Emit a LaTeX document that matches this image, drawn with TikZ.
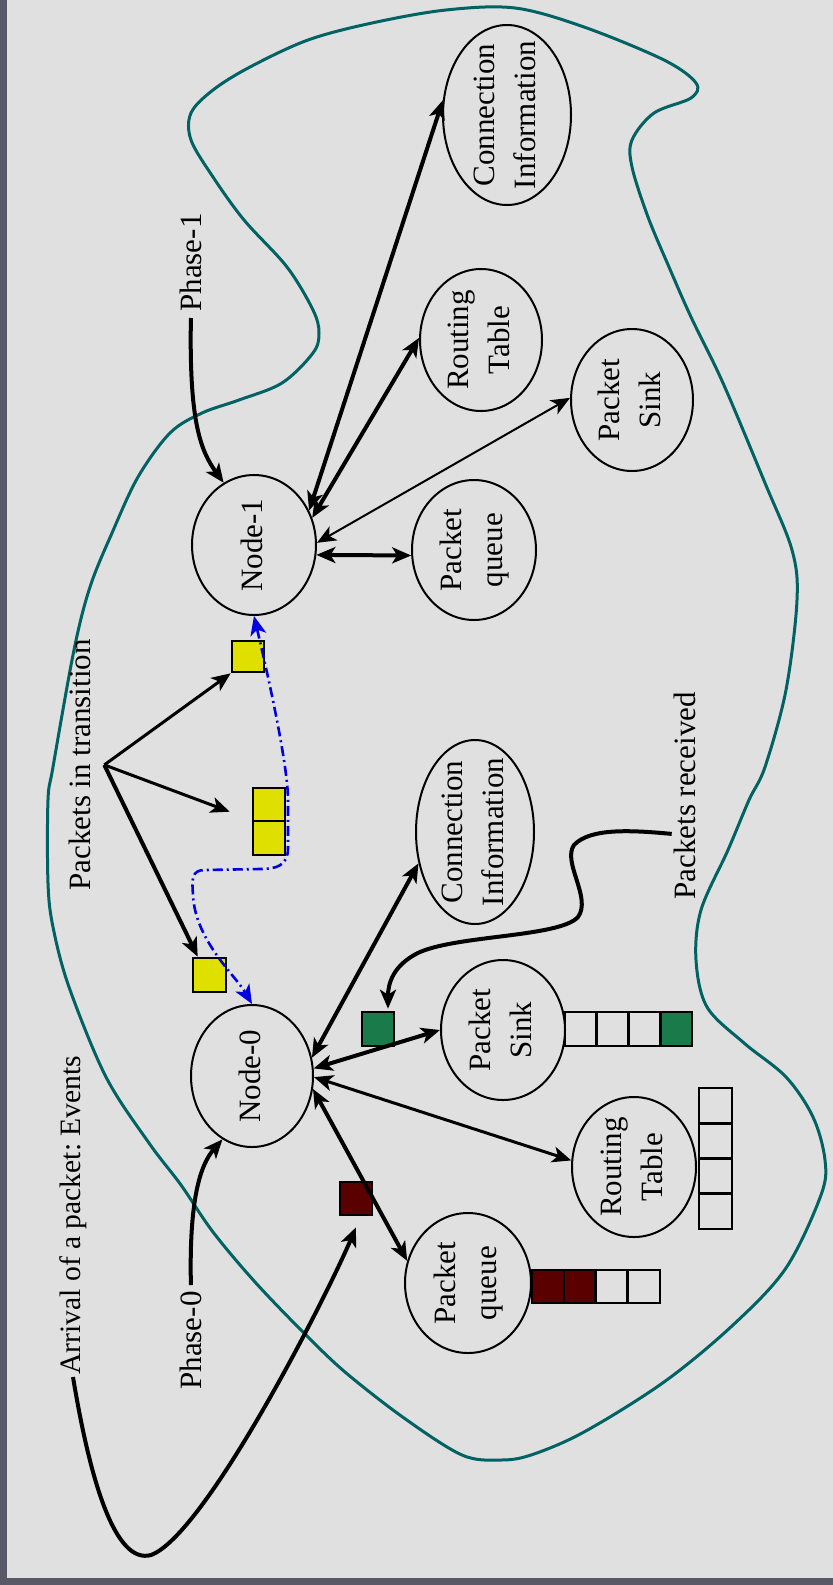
\documentclass[tikz,border=0pt]{standalone}
\usepackage{fontspec}
\setmainfont{Liberation Serif}
\usepackage{graphicx}
\usetikzlibrary{shapes.geometric,arrows.meta,calc}

\definecolor{bggray}{HTML}{E0E0E0}
\definecolor{framegray}{HTML}{585868}
\definecolor{blobteal}{HTML}{006262}
\definecolor{pktyellow}{HTML}{E0E000}
\definecolor{pktgreen}{HTML}{1A7A4A}
\definecolor{pktred}{HTML}{5A0000}
\definecolor{pathblue}{HTML}{0000E0}

% two-line text set sideways (reads bottom to top)
\newcommand\sidetext[1]{\rotatebox{90}{\begin{tabular}{@{}c@{}}#1\end{tabular}}}

\begin{document}
\frenchspacing
\begin{tikzpicture}[x=0.5pt,y=-0.5pt,
  every node/.style={font=\fontsize{15.5}{20.5}\selectfont},
  >={Stealth[length=9.5pt,width=8pt,inset=2.5pt]},
  ell/.style={ellipse,draw,line width=1pt,inner sep=0pt},
  lab/.style={rotate=90,inner sep=1pt,anchor=west},
  pkt/.style={draw,line width=1.3pt,inner sep=0pt,minimum width=16pt,minimum height=16.5pt},
  cell/.style={draw,line width=1.3pt},
  thickln/.style={line width=2pt},
  medln/.style={line width=1.5pt},
  thinln/.style={line width=1pt}]

% canvas and frame
\fill[bggray] (0,0) rectangle (833,1585);
\fill[framegray] (0,0) rectangle (7,1585);
\fill[framegray] (0,1578) rectangle (833,1585);
\useasboundingbox (0,0) rectangle (833,1585);

% boundary of the simulated network
\draw[blobteal,line width=1.5pt] plot[smooth cycle,tension=0.55] coordinates {
 (446,10) (515,8) (584,27) (664,60) (696,83) (691,98) (654,113) (632,140)
 (632,167) (648,217) (669,267) (691,317) (723,383) (765,483) (792,550)
 (797,600) (786,690) (765,767) (749,800) (728,850) (701,910) (696,960)
 (707,1007) (744,1043) (786,1077) (813,1117) (825,1160) (821,1195)
 (786,1268) (733,1325) (664,1382) (584,1432) (531,1455) (500,1460)
 (462,1455) (404,1418) (345,1372) (303,1332) (255,1282) (213,1232)
 (181,1185) (149,1143) (106,1077) (69,987) (53,927) (48,883) (48,800)
 (53,767) (74,650) (90,587) (112,533) (138,477) (170,433) (202,413)
 (239,400) (282,383) (313,353) (319,333) (313,310) (287,267) (244,220)
 (213,177) (191,140) (191,113) (213,90) (250,67) (308,40) (372,23)};

% ellipses
\node[ell,minimum width=64pt,minimum height=90pt] (ci1) at (507,115) {};
\node[ell,minimum width=61pt,minimum height=71pt] (rt1) at (481,340) {};
\node[ell,minimum width=61pt,minimum height=71pt] (ps1) at (632,400) {};
\node[ell,minimum width=62pt,minimum height=70pt] (n1) at (254,545) {};
\node[ell,minimum width=62pt,minimum height=70pt] (pq1) at (474,550) {};
\node[ell,minimum width=59pt,minimum height=92pt] (ci0) at (475,832) {};
\node[ell,minimum width=61pt,minimum height=71pt] (n0) at (252,1076) {};
\node[ell,minimum width=62pt,minimum height=70pt] (ps0) at (503,1030) {};
\node[ell,minimum width=62pt,minimum height=70pt] (rt0) at (634,1167) {};
\node[ell,minimum width=63pt,minimum height=70pt] (pq0) at (468,1283) {};

\node (ci1t) at (ci1) {\sidetext{Connection\\Information}};
\node (rt1t) at (rt1) {\sidetext{Routing\\Table}};
\node (ps1t) at (ps1) {\sidetext{Packet\\Sink}};
\node (n1t) at (n1) {\sidetext{Node-1}};
\node (pq1t) at (pq1) {\sidetext{Packet\\queue}};
\node (ci0t) at (ci0) {\sidetext{Connection\\Information}};
\node (n0t) at (n0) {\sidetext{Node-0}};
\node (ps0t) at (ps0) {\sidetext{Packet\\Sink}};
\node (rt0t) at (rt0) {\sidetext{Routing\\Table}};
\node (pq0t) at (pq0) {\sidetext{Packet\\queue}};

% free labels
\node[lab] (ph1) at (191,314) {Phase-1};
\node[lab] (ph0) at (191,1392) {Phase-0};
\node[lab,font=\fontsize{14.8}{18}\selectfont] (arr) at (73,1377) {Arrival of a packet: Events};
\node[lab] (pit) at (80,893) {Packets in transition};
\node[lab] (prc) at (685,902) {Packets received};

% packets
\node[pkt,fill=pktyellow,minimum height=15.5pt] (y1) at (248,656.5) {};
\node[pkt,fill=pktyellow] (y2a) at (269,804.5) {};
\node[pkt,fill=pktyellow,minimum height=17pt] (y2b) at (269,838) {};
\node[pkt,fill=pktyellow,minimum width=16.5pt,minimum height=17pt] (y3) at (209.5,975) {};
\node[pkt,fill=pktgreen,minimum height=17pt] (gb) at (378,1029) {};
\node[pkt,fill=pktred] (rb) at (356,1198.5) {};

% queues
\fill[pktgreen] (660.25,1012) rectangle (692,1046);
\draw[cell] (565,1012) rectangle (692,1046)
  (596.75,1012) -- (596.75,1046) (628.5,1012) -- (628.5,1046) (660.25,1012) -- (660.25,1046);
\fill[pktred] (532,1270) rectangle (595.5,1303);
\draw[cell] (532,1270) rectangle (660,1303)
  (564,1270) -- (564,1303) (595.5,1270) -- (595.5,1303) (627.5,1270) -- (627.5,1303);
\draw[cell] (699,1088) rectangle (732,1229)
  (699,1123.25) -- (732,1123.25) (699,1158.5) -- (732,1158.5) (699,1193.75) -- (732,1193.75);

% Node-1 links
\draw[thickln,<->] (n1.32) -- (ci1.167);
\draw[thickln,<->] (n1.25) -- (rt1.178);
\draw[thinln,<->] (n1.2) -- (ps1.178);
\draw[thickln,<->] (n1.-9) -- (pq1.185);

% Node-0 links
\draw[thickln,<->] (n0.17) -- (ci0.209);
\draw[thickln,<->] (n0.7) -- (ps0.180);
\draw[medln,<->] (n0.-1) -- (rt0.174);
\draw[thickln,<->] (n0.-12) -- (pq0.160);

% phases
\draw[thickln,->,shorten <=2pt] (ph1.west) .. controls (189,420) and (200,450) .. (n1.116);
\draw[thickln,->,shorten <=2pt] (ph0.east) .. controls (189,1200) and (200,1165) .. (n0.245);

% packet arrival
\draw[thickln,->] (arr.west) .. controls (90,1480) and (115,1565) .. (151,1555)
  .. controls (205,1535) and (325,1300) .. ([yshift=-5.5pt]rb.south);

% packets in transition
\coordinate (apex) at ([xshift=5.5pt]pit.south);
\draw[medln,->] (apex) -- (y1.south west);
\draw[medln,->] (apex) -- ([xshift=-11pt,yshift=4pt]y2b.north west);
\draw[thickln,->] (apex) -- ([xshift=3pt]y3.north west);

% packets received
\draw[thickln,->] ([yshift=-19pt]prc.north) .. controls (630,830) and (590,828) .. (574,845)
  .. controls (562,862) and (592,898) .. (578,917)
  .. controls (560,937) and (460,935) .. (420,952)
  .. controls (392,965) and (388,985) .. ([xshift=5pt,yshift=1pt]gb.north);

% route of the packet between the nodes
\draw[pathblue,line width=1.3pt,dash pattern=on 5pt off 2pt on 1pt off 2pt,<->]
  (n1.south) .. controls (262,650) and (288,760) .. (288,800) -- (288,848)
  .. controls (288,866) and (276,869) .. (260,869) -- (205,870)
  .. controls (191,870) and (192,880) .. (193,895)
  .. controls (195,940) and (235,975) .. (n0.north);

\end{tikzpicture}
\end{document}
